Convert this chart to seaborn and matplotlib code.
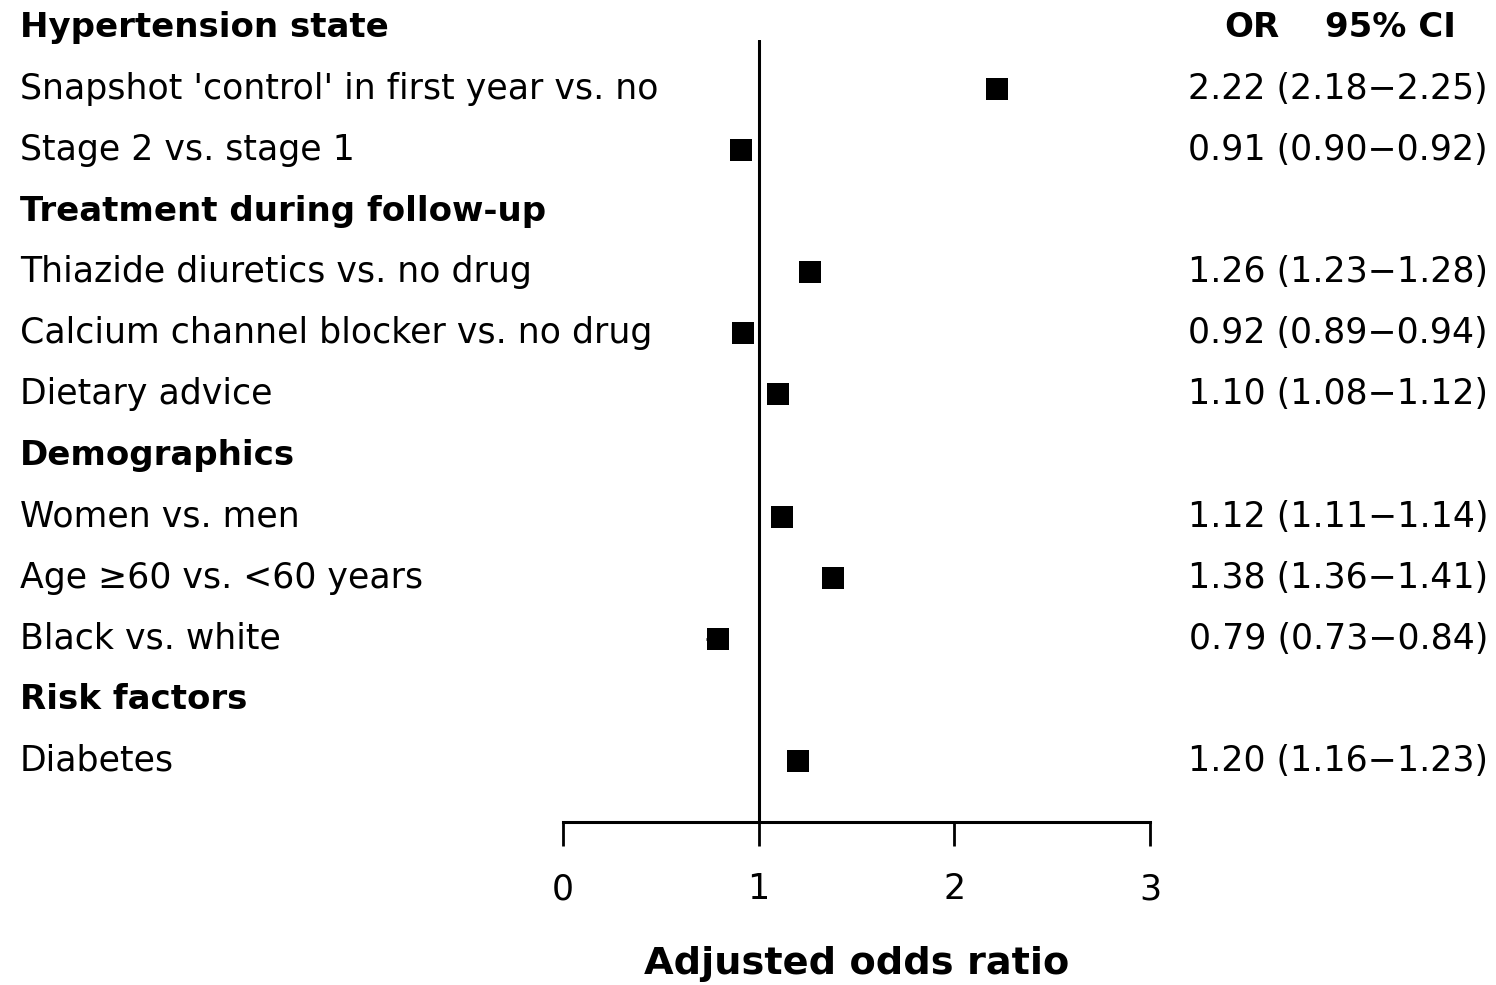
import matplotlib
matplotlib.use("Agg")
import matplotlib.pyplot as plt
import matplotlib.transforms as mtransforms
import seaborn as sns
import pandas as pd

sns.set_theme(style="white")
plt.rcParams["font.family"] = ["DejaVu Sans"]

# Rows top to bottom; None marks a section header
labels = [
    "Hypertension state",
    "Snapshot 'control' in first year vs. no",
    "Stage 2 vs. stage 1",
    "Treatment during follow-up",
    "Thiazide diuretics vs. no drug",
    "Calcium channel blocker vs. no drug",
    "Dietary advice",
    "Demographics",
    "Women vs. men",
    "Age \u226560 vs. <60 years",
    "Black vs. white",
    "Risk factors",
    "Diabetes",
]
odds_ratio = [None, 2.22, 0.91, None, 1.26, 0.92, 1.10, None, 1.12, 1.38, 0.79, None, 1.20]
ci_low = [None, 2.18, 0.90, None, 1.23, 0.89, 1.08, None, 1.11, 1.36, 0.73, None, 1.16]
ci_high = [None, 2.25, 0.92, None, 1.28, 0.94, 1.12, None, 1.14, 1.41, 0.84, None, 1.23]
x_ticks = [0, 1, 2, 3]

W, H = 1496, 985
FS = 25
FS_BOLD = 24.5
fig = plt.figure(figsize=(W / 100, H / 100), dpi=100)
ax = fig.add_axes([563 / W, 1 - 822 / H, (1150 - 563) / W, (822 - 40) / H])

df = pd.DataFrame({"row": range(len(labels)), "label": labels, "or": odds_ratio,
                   "lo": ci_low, "hi": ci_high})
est = df.dropna(subset=["or"])

# confidence intervals and point estimates
ax.hlines(est["row"], est["lo"], est["hi"], color="black", lw=2, zorder=2)
sns.scatterplot(data=est, x="or", y="row", marker="s", s=260, color="black",
                edgecolor="black", linewidth=0, ax=ax, zorder=3, legend=False)

ax.axvline(1, color="black", lw=2.2, zorder=1)
ax.set_xlim(0, 3)
ax.set_ylim(13, 0.2)
ax.set_xticks(x_ticks)
ax.set_xticklabels([str(t) for t in x_ticks], fontsize=25)
ax.set_yticks([])
ax.set_ylabel("")
for s in ["top", "left", "right"]:
    ax.spines[s].set_visible(False)
ax.spines["bottom"].set_color("black")
ax.spines["bottom"].set_linewidth(2.2)
ax.tick_params(axis="x", bottom=True, direction="out", length=17, width=2,
               color="black", pad=19, labelcolor="black")
ax.set_xlabel("Adjusted odds ratio", fontsize=27.5, fontweight="bold", labelpad=29,
              color="black")

# text columns: labels on the left, OR (95% CI) on the right
tr = mtransforms.blended_transform_factory(fig.transFigure, ax.transData)
for _, r in df.iterrows():
    header = pd.isna(r["or"])
    ax.text(20 / W, r["row"], r["label"], transform=tr, ha="left", va="center",
            fontsize=FS_BOLD if header else FS,
            fontweight="bold" if header else "normal",
            color="black", clip_on=False)
    if not header:
        txt = f"{r['or']:.2f} ({r['lo']:.2f}\u2212{r['hi']:.2f})"
        ax.text(1488 / W, r["row"], txt, transform=tr, ha="right", va="center",
                fontsize=FS, color="black", clip_on=False)

ax.text(1252 / W, 0, "OR", transform=tr, ha="center", va="center",
        fontsize=FS_BOLD, fontweight="bold", color="black", clip_on=False)
ax.text(1390 / W, 0, "95% CI", transform=tr, ha="center", va="center",
        fontsize=FS_BOLD, fontweight="bold", color="black", clip_on=False)

fig.savefig("out.png", dpi=100, facecolor="white")
